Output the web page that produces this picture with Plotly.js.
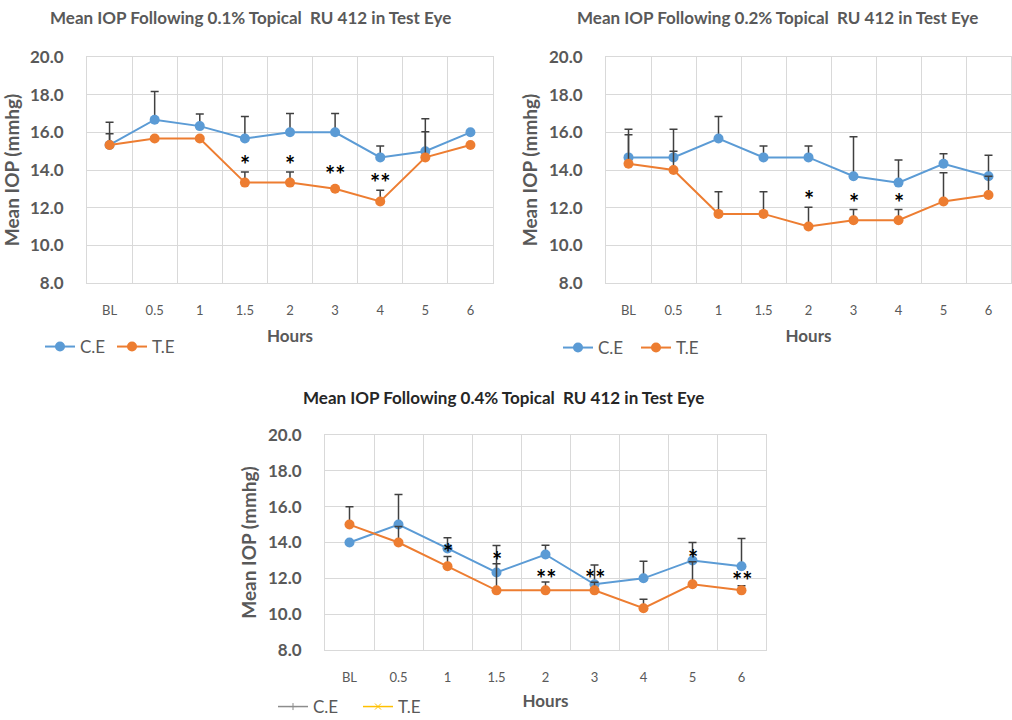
<!DOCTYPE html>
<html>
<head>
<meta charset="utf-8">
<script src="https://cdn.plot.ly/plotly-3.0.1.min.js"></script>
<style>html,body{margin:0;padding:0;background:#fff;}#chart{width:1012px;height:720px;}</style>
</head>
<body>
<div id="chart"></div>
<script>
// ---------- DATA ----------
const hours = ["BL", "0.5", "1", "1.5", "2", "3", "4", "5", "6"];

// Chart 1: 0.1% RU 412
const ce1 = [15.33, 16.67, 16.33, 15.67, 16.0, 16.0, 14.67, 15.0, 16.0];
const te1 = [15.33, 15.67, 15.67, 13.33, 13.33, 13.0, 12.33, 14.67, 15.33];
const ce1Err = [1.2, 1.5, 0.65, 1.17, 1.0, 1.0, 0.61, 1.72, 0];
const te1Err = [0.6, 0, 0, 0.57, 0.57, 0, 0.6, 1.36, 0];
const sig1 = ["", "", "", "*", "*", "**", "**", "", ""];

// Chart 2: 0.2% RU 412
const ce2 = [14.67, 14.67, 15.67, 14.67, 14.67, 13.67, 13.33, 14.33, 13.67];
const te2 = [14.33, 14.0, 11.67, 11.67, 11.0, 11.33, 11.33, 12.33, 12.67];
const ce2Err = [1.49, 1.49, 1.17, 0.61, 0.61, 2.09, 1.2, 0.53, 1.11];
const te2Err = [1.54, 0.99, 1.17, 1.17, 1.02, 0.57, 0.57, 1.53, 1.0];
const sig2 = ["", "", "", "", "*", "*", "*", "", ""];

// Chart 3: 0.4% RU 412
const ce3 = [14.0, 15.0, 13.67, 12.33, 13.33, 11.67, 12.0, 13.0, 12.67];
const te3 = [15.0, 14.0, 12.67, 11.33, 11.33, 11.33, 10.33, 11.67, 11.33];
const ce3Err = [0, 1.68, 0.6, 1.5, 0.52, 1.07, 0.96, 1.0, 1.55];
const te3Err = [1.0, 0.9, 0.55, 1.48, 0.47, 0.45, 0.5, 1.25, 0.25];
const sig3 = ["", "", "*", "*", "**", "**", "", "*", "**"];

const titles = [
  "Mean IOP Following 0.1% Topical  RU 412 in Test Eye",
  "Mean IOP Following 0.2% Topical  RU 412 in Test Eye",
  "Mean IOP Following 0.4% Topical  RU 412 in Test Eye"
];
const seriesNames = ["C.E", "T.E"];

// ---------- STYLE ----------
const FONT = "Lato, 'Open Sans', sans-serif";
const BLUE = "#5B9BD5", ORANGE = "#ED7D31", GREY = "#595959", GRID = "#d9d9d9";
const W = 1012, H = 720;
// plot boxes in pixels [left, right, top, bottom]
const boxes = [[87, 493, 57, 283], [606, 1011, 57, 283], [325, 766, 435, 650]];
const titleCenters = [250, 777, 503];
const titleMids = [17, 17, 397];

const datasets = [
  {ce: ce1, te: te1, ceErr: ce1Err, teErr: te1Err, sig: sig1},
  {ce: ce2, te: te2, ceErr: ce2Err, teErr: te2Err, sig: sig2},
  {ce: ce3, te: te3, ceErr: ce3Err, teErr: te3Err, sig: sig3}
];

const traces = [];
const annotations = [];
const layout = {
  width: W, height: H,
  margin: {l: 0, r: 0, t: 0, b: 0, autoexpand: false},
  paper_bgcolor: "#fff", plot_bgcolor: "#fff",
  font: {family: FONT, color: GREY},
  showlegend: true
};

datasets.forEach((d, i) => {
  const n = i === 0 ? "" : String(i + 1);
  const xa = "x" + n, ya = "y" + n;
  const b = boxes[i];
  const lg = i === 0 ? "legend" : "legend" + (i + 1);
  const zeros = d.ce.map(() => 0);
  const err = arr => ({type: "data", array: arr, arrayminus: zeros, symmetric: false,
                       color: "#404040", thickness: 1.5, width: 4});
  const bottom = i === 2;
  traces.push({
    x: hours, y: d.ce, xaxis: xa, yaxis: ya, name: seriesNames[0], type: "scatter",
    mode: "lines+markers", line: {color: BLUE, width: 2}, marker: {color: BLUE, size: 10},
    error_y: err(d.ceErr), legend: lg, showlegend: !bottom
  });
  traces.push({
    x: hours, y: d.te, xaxis: xa, yaxis: ya, name: seriesNames[1], type: "scatter",
    mode: "lines+markers", line: {color: ORANGE, width: 2}, marker: {color: ORANGE, size: 10},
    error_y: err(d.teErr), legend: lg, showlegend: !bottom
  });
  if (bottom) {
    traces.push({x: [null], y: [null], xaxis: xa, yaxis: ya, name: seriesNames[0], type: "scatter",
      mode: "lines+markers", line: {color: "#8c8c8c", width: 1.5},
      marker: {color: "#8c8c8c", size: 5, symbol: "cross-thin-open", line: {color: "#8c8c8c", width: 1}},
      legend: lg});
    traces.push({x: [null], y: [null], xaxis: xa, yaxis: ya, name: seriesNames[1], type: "scatter",
      mode: "lines+markers", line: {color: "#FFC000", width: 1.5},
      marker: {color: "#FFC000", size: 6, symbol: "x-thin-open", line: {color: "#FFC000", width: 1}},
      legend: lg});
  }

  layout["xaxis" + n] = {
    domain: [b[0] / W, b[1] / W], anchor: ya, type: "category",
    range: [-0.5, 8.5], tickson: "boundaries", showgrid: true, gridcolor: GRID, gridwidth: 1,
    showline: true, mirror: true, linecolor: GRID, linewidth: 1,
    ticks: "", ticklabelstandoff: 15,
    tickfont: {size: 13, color: GREY, family: FONT},
    title: {text: "Hours", font: {size: 17, color: GREY, family: FONT, weight: "bold"}, standoff: bottom ? 11 : 13},
    fixedrange: true
  };
  layout["yaxis" + n] = {
    domain: [1 - b[3] / H, 1 - b[2] / H], anchor: xa,
    range: [8, 20], dtick: 2, tick0: 8, tickformat: ".1f",
    showgrid: true, gridcolor: GRID, gridwidth: 1, zeroline: false,
    showline: true, mirror: true, linecolor: GRID, linewidth: 1,
    ticks: "", ticklabelstandoff: 19,
    tickfont: {size: 17, color: GREY, family: FONT, weight: "bold"},
    title: {text: "Mean IOP (mmhg)", font: {size: 19, color: GREY, family: FONT, weight: "bold"}, standoff: 6},
    fixedrange: true
  };

  // title
  annotations.push({
    xref: "paper", yref: "paper", x: titleCenters[i] / W,
    y: 1 - titleMids[i] / H, xanchor: "center", yanchor: "middle", showarrow: false,
    text: titles[i],
    font: {size: 17, color: bottom ? "#262626" : GREY, family: FONT, weight: "bold"}
  });

  // significance stars
  d.sig.forEach((s, k) => {
    if (!s) return;
    annotations.push({
      xref: xa, yref: ya, x: k, y: d.te[k] + Math.max(d.teErr[k], 0.35),
      text: s, showarrow: false, yanchor: "bottom", yshift: bottom ? -13 : -9,
      font: {size: 24, color: "#000", family: FONT, weight: "bold"}
    });
  });
});

layout.annotations = annotations;
const legendCommon = {orientation: "h", xanchor: "left", yanchor: "middle", itemwidth: 30,
  entrywidthmode: "pixels",
  bgcolor: "rgba(0,0,0,0)", font: {size: 17, color: GREY, family: FONT}, tracegroupgap: 0};
layout.legend = Object.assign({}, legendCommon, {x: 40 / W, y: 1 - 347 / H, entrywidth: 27});
layout.legend2 = Object.assign({}, legendCommon, {x: 558 / W, y: 1 - 348 / H, entrywidth: 33});
layout.legend3 = Object.assign({}, legendCommon, {x: 273 / W, y: 1 - 707 / H, entrywidth: 40});

Plotly.newPlot("chart", traces, layout, {displayModeBar: false, staticPlot: true});
</script>
</body>
</html>
